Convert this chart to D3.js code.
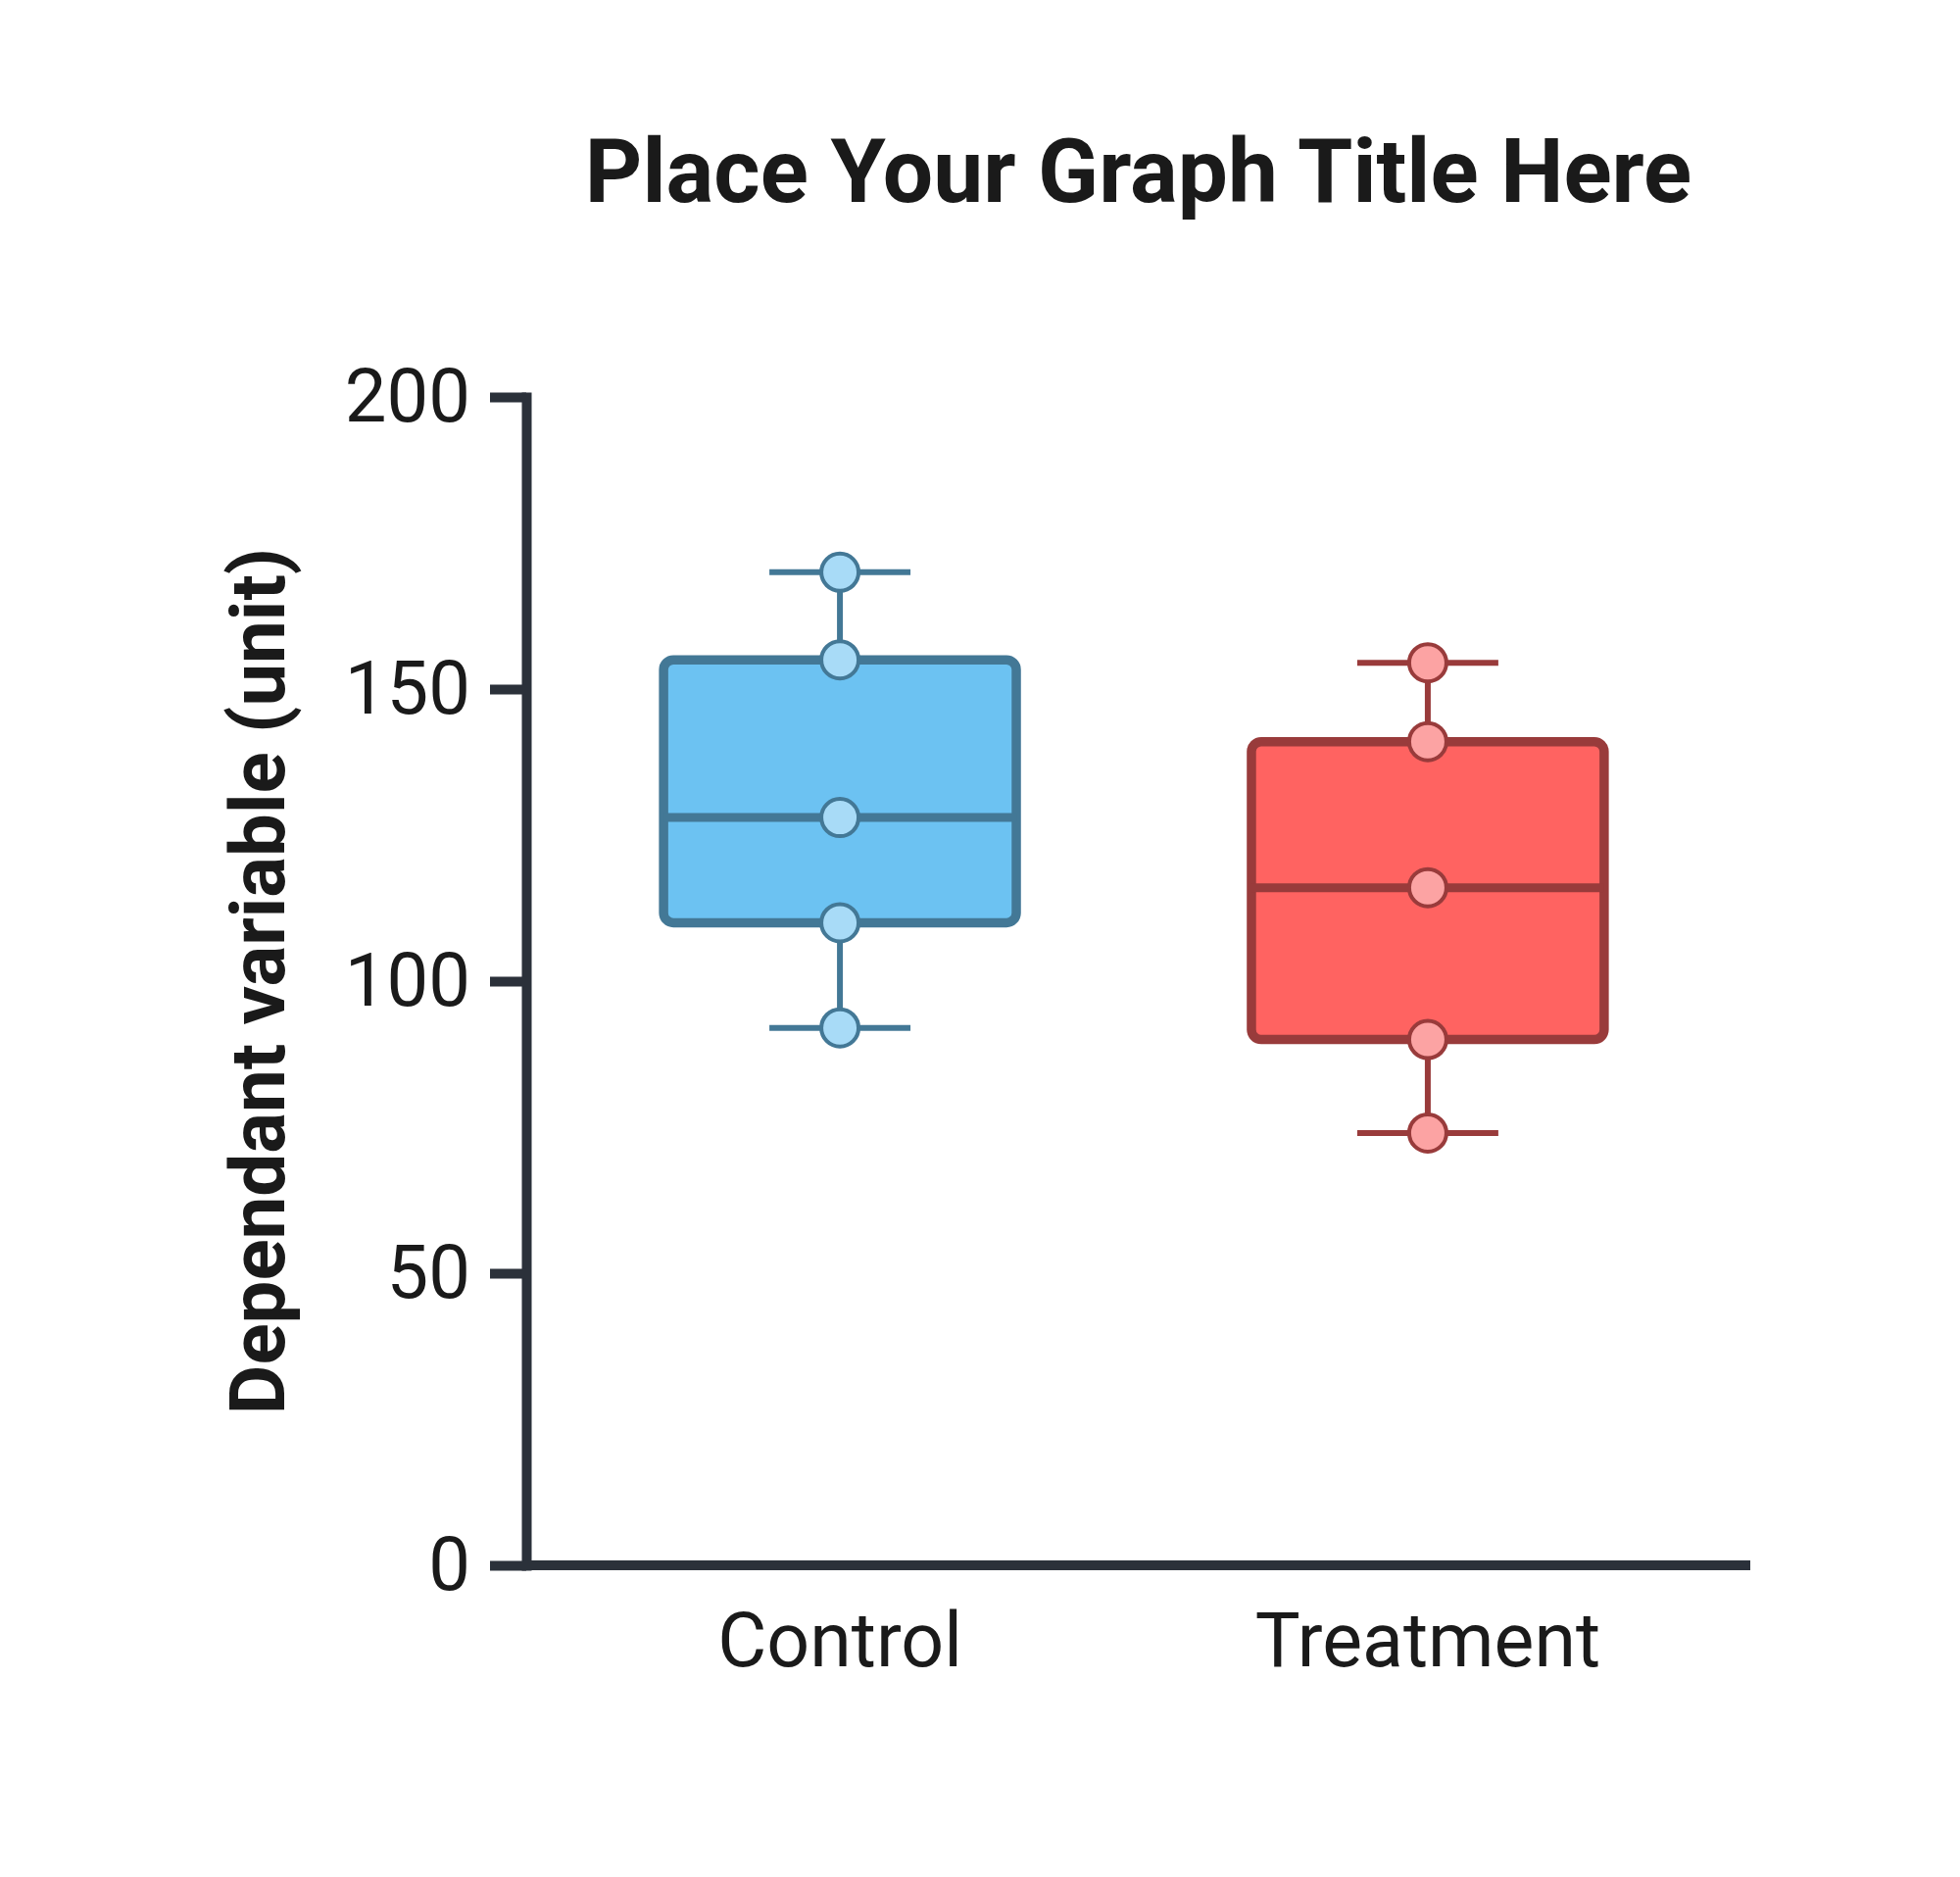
<!DOCTYPE html>
<html>
<head>
<meta charset="utf-8">
<script src="https://cdn.jsdelivr.net/npm/d3@7"></script>
<style>
  html, body { margin: 0; padding: 0; background: #fff; }
  #chart { width: 2000px; height: 1915px; }
  text { font-family: Roboto, "Noto Sans", sans-serif; fill: #1a1a1a; }
</style>
</head>
<body>
<div id="chart"></div>
<script>
// Chart data
const categories = ['Control', 'Treatment'];
const mins = [92, 74];
const q1s = [110, 90];
const medians = [128, 116];
const q3s = [155, 141];
const maxs = [170, 154.5];
const yTicks = [0, 50, 100, 150, 200];

// Colours per group
const boxFill = ['#6cc2f2', '#ff6361'];
const boxStroke = ['#437896', '#993b3b'];
const dotFill = ['#a8dbf7', '#fca3a3'];

function createVisualization(width, height) {
    d3.select('#chart').selectAll('*').remove();

    const axisColor = '#2b313a';
    const plot = { left: 537, right: 1786, top: 405, bottom: 1597 };

    const svg = d3.select('#chart')
        .append('svg')
        .attr('width', width)
        .attr('height', height);

    // Scales
    const yScale = d3.scaleLinear()
        .domain([0, 200])
        .range([plot.bottom, plot.top]);

    const xScale = d3.scaleBand()
        .domain(categories)
        .range([plot.left, plot.left + 1240])
        .paddingInner(0.4)
        .paddingOuter(0.2336);

    const groups = categories.map((c, i) => ({
        name: c, i,
        min: mins[i], q1: q1s[i], med: medians[i], q3: q3s[i], max: maxs[i]
    }));

    // Title
    svg.append('text')
        .attr('x', (plot.left + plot.right) / 2)
        .attr('y', 206)
        .attr('text-anchor', 'middle')
        .style('font-size', '91px')
        .style('font-weight', 'bold')
        .text('Place Your Graph Title Here');

    // Y axis label
    svg.append('text')
        .attr('transform', `translate(290, ${(plot.top + plot.bottom) / 2}) rotate(-90)`)
        .attr('text-anchor', 'middle')
        .style('font-size', '78px')
        .style('font-weight', 'bold')
        .text('Dependant variable (unit)');

    // Y axis
    const yAxis = svg.append('g')
        .attr('transform', `translate(${plot.left},0)`)
        .call(d3.axisLeft(yScale).tickValues(yTicks).tickSize(37).tickSizeOuter(0).tickPadding(20));
    yAxis.select('.domain')
        .attr('stroke', axisColor)
        .attr('stroke-width', 10)
        .attr('stroke-linecap', 'square');
    yAxis.selectAll('.tick line')
        .attr('stroke', axisColor)
        .attr('stroke-width', 10);
    yAxis.selectAll('.tick text')
        .style('font-size', '76px')
        .attr('fill', '#1a1a1a')
        .style('font-family', 'Roboto');

    // X baseline
    svg.append('line')
        .attr('x1', plot.left)
        .attr('x2', plot.right)
        .attr('y1', yScale(0))
        .attr('y2', yScale(0))
        .attr('stroke', axisColor)
        .attr('stroke-width', 10);

    // X axis labels
    const xAxis = svg.append('g')
        .attr('transform', `translate(0,${plot.bottom})`)
        .call(d3.axisBottom(xScale).tickSize(0).tickPadding(48));
    xAxis.select('.domain').remove();
    xAxis.selectAll('.tick text')
        .style('font-size', '77px')
        .attr('fill', '#1a1a1a')
        .style('font-family', 'Roboto');

    const bw = xScale.bandwidth();
    const capHalf = bw * 0.2;

    const g = svg.selectAll('.box')
        .data(groups)
        .join('g')
        .attr('class', 'box')
        .attr('transform', d => `translate(${xScale(d.name) + bw / 2},0)`);

    // Whisker stem
    g.append('line')
        .attr('x1', 0).attr('x2', 0)
        .attr('y1', d => yScale(d.min))
        .attr('y2', d => yScale(d.max))
        .attr('stroke', d => boxStroke[d.i])
        .attr('stroke-width', 6);

    // Whisker caps
    ['min', 'max'].forEach(k => {
        g.append('line')
            .attr('x1', -capHalf).attr('x2', capHalf)
            .attr('y1', d => yScale(d[k]))
            .attr('y2', d => yScale(d[k]))
            .attr('stroke', d => boxStroke[d.i])
            .attr('stroke-width', 6);
    });

    // Box
    g.append('rect')
        .attr('x', -bw / 2)
        .attr('width', bw)
        .attr('y', d => yScale(d.q3))
        .attr('height', d => yScale(d.q1) - yScale(d.q3))
        .attr('rx', 10)
        .attr('fill', d => boxFill[d.i])
        .attr('stroke', d => boxStroke[d.i])
        .attr('stroke-width', 9.5);

    // Median
    g.append('line')
        .attr('x1', -bw / 2).attr('x2', bw / 2)
        .attr('y1', d => yScale(d.med))
        .attr('y2', d => yScale(d.med))
        .attr('stroke', d => boxStroke[d.i])
        .attr('stroke-width', 9);

    // Points at the five summary values
    g.selectAll('circle')
        .data(d => ['min', 'q1', 'med', 'q3', 'max'].map(k => ({ v: d[k], i: d.i })))
        .join('circle')
        .attr('cx', 0)
        .attr('cy', d => yScale(d.v))
        .attr('r', 19)
        .attr('fill', d => dotFill[d.i])
        .attr('stroke', d => boxStroke[d.i])
        .attr('stroke-width', 4);
}

document.addEventListener('DOMContentLoaded', () => {
    createVisualization(2000, 1915);
});
</script>
</body>
</html>
